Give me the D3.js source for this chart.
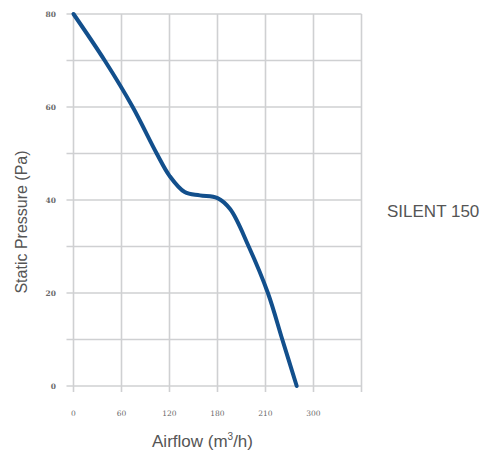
<!DOCTYPE html>
<html><head><meta charset="utf-8">
<script src="https://cdn.jsdelivr.net/npm/d3@7"></script>
<style>body{margin:0;background:#fff;}svg{display:block;}</style>
</head><body>
<script>
const airflow =  [0, 39, 74, 104, 120, 139, 158, 180, 196, 219, 243, 261, 279];
const pressure = [80, 70, 60, 50, 45.2, 41.7, 41, 40.4, 38, 30, 20, 10, 0];
const xTickValues = [0, 60, 120, 180, 240, 300, 360];
const xTickLabels = ["0", "60", "120", "180", "210", "300", ""];
const yTickValues = [0, 10, 20, 30, 40, 50, 60, 70, 80];
const yTickLabels = ["0", "", "20", "", "40", "", "60", "", "80"];
const seriesName = "SILENT 150";

const W = 487, H = 452;
const svg = d3.select("body").append("svg").attr("width", W).attr("height", H);
const x = d3.scaleLinear().domain([0, 360]).range([73.5, 361.5]);
const y = d3.scaleLinear().domain([0, 80]).range([386, 14]);

const grid = svg.append("g").attr("stroke", "#cfd0d2").attr("stroke-width", 1.6);
grid.selectAll("line.v").data(xTickValues).join("line").attr("class", "v")
  .attr("x1", d => x(d)).attr("x2", d => x(d)).attr("y1", y(80)).attr("y2", y(0) + 6);
grid.selectAll("line.h").data(yTickValues).join("line").attr("class", "h")
  .attr("x1", x(0) - 7).attr("x2", x(360)).attr("y1", d => y(d)).attr("y2", d => y(d));

svg.append("g").selectAll("text").data(xTickValues).join("text")
  .attr("x", d => x(d)).attr("y", 416).attr("text-anchor", "middle")
  .attr("font-family", "DejaVu Serif, serif").attr("font-size", 7.5).attr("fill", "#6a6a6a")
  .text((d, i) => xTickLabels[i]);
svg.append("g").selectAll("text").data(yTickValues).join("text")
  .attr("x", 56).attr("y", d => y(d) + 3).attr("text-anchor", "end")
  .attr("font-family", "DejaVu Serif, serif").attr("font-size", 7.5).attr("font-weight", "bold").attr("fill", "#6a6a6a")
  .text((d, i) => yTickLabels[i]);

const pts = airflow.map((a, i) => [a, pressure[i]]);
svg.append("path").datum(pts)
  .attr("d", d3.line().x(d => x(d[0])).y(d => y(d[1])).curve(d3.curveCatmullRom.alpha(0.5)))
  .attr("fill", "none").attr("stroke", "#124f8c").attr("stroke-width", 4).attr("stroke-linecap", "round");

svg.append("text").attr("x", 202.5).attr("y", 447).attr("text-anchor", "middle")
  .attr("font-family", "Liberation Sans, Arial, sans-serif").attr("font-size", 17).attr("fill", "#555")
  .html("Airflow (m<tspan font-size='10' dy='-7'>3</tspan><tspan dy='7'>/h)</tspan>");
svg.append("text").attr("transform", "translate(27,222) rotate(-90)").attr("text-anchor", "middle")
  .attr("font-family", "Liberation Sans, Arial, sans-serif").attr("font-size", 16).attr("fill", "#555")
  .text("Static Pressure (Pa)");
svg.append("text").attr("x", 387).attr("y", 217)
  .attr("font-family", "Liberation Sans, Arial, sans-serif").attr("font-size", 17).attr("fill", "#555")
  .text(seriesName);
</script>
</body></html>
